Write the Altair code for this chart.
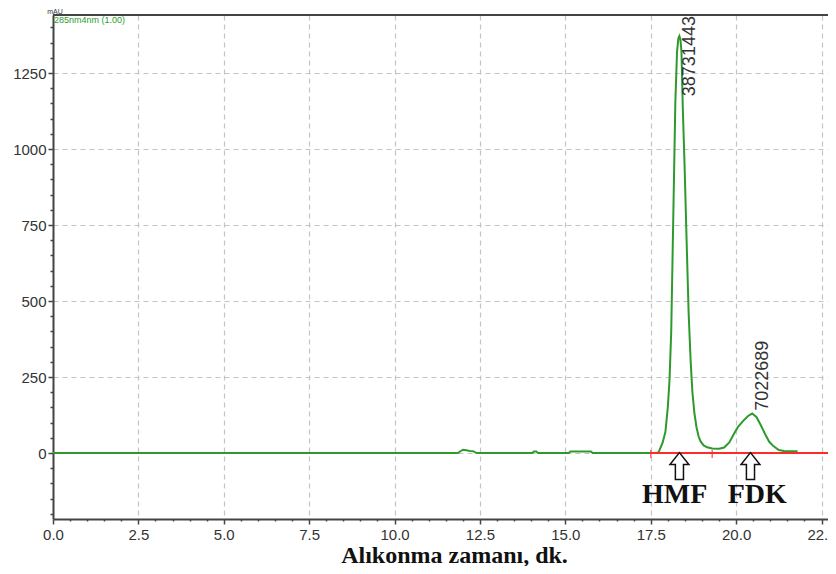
import altair as alt
import pandas as pd

# ---- chromatogram trace ----
time_min = [0, 11.85, 12.0, 12.1, 12.2, 12.3, 12.4,
            14.03, 14.08, 14.15, 14.2,
            15.1, 15.15, 15.75, 15.8,
            17.6, 17.73, 17.85, 17.93, 18.0, 18.05, 18.1, 18.14, 18.18, 18.22, 18.27, 18.31, 18.34,
            18.37, 18.4, 18.44, 18.49, 18.55, 18.61, 18.67, 18.72, 18.78, 18.84, 18.9, 18.96,
            19.05, 19.15, 19.3, 19.5, 19.65, 19.8, 19.93, 20.05, 20.2, 20.35, 20.47,
            20.6, 20.72, 20.85, 20.97, 21.1, 21.25, 21.4, 21.8]
mau = [0, 0, 11, 9, 7, 6, 0,
       0, 5, 5, 0,
       0, 5, 5, 0,
       0, 2, 35, 70, 150, 240, 400, 650, 900, 1150, 1320, 1365, 1372,
       1360, 1320, 1130, 950, 700, 460, 300, 200, 130, 85, 55, 38,
       25, 19, 15, 14, 18, 35, 62, 85, 105, 122, 130,
       118, 92, 62, 37, 22, 10, 7, 6]

# ---- annotations ----
peak_labels = ["38731443", "7022689"]
peak_label_t = [18.66, 20.80]
peak_label_y = [1174, 139]
compound_names = ["HMF", "FDK"]
compound_t = [18.2, 20.62]
compound_y = [-165, -165]
arrow_t = [18.34, 20.42]
arrow_y = [-43, -43]
baseline_t = [17.5, 22.69]
baseline_y = [0, 0]
marker_t = [17.5, 19.3]
marker_y = [-3, -3]

x_major = [0.0, 2.5, 5.0, 7.5, 10.0, 12.5, 15.0, 17.5, 20.0, 22.5]
x_minor = [i * 0.5 for i in range(46) if i % 5 != 0]
y_major = [0, 250, 500, 750, 1000, 1250]
y_minor = [v for v in range(-200, 1450, 50) if v % 250 != 0]

x_title = "Alıkonma zamanı, dk."
y_unit = "mAU"
trace_name = "285nm4nm (1.00)"

X_DOMAIN = [0, 22.69]
Y_DOMAIN = [-217, 1441]
W, H = 775, 504

GREEN = "#2e9a2e"
RED = "#ff2b2b"
AXIS = "#444444"

xs = alt.Scale(domain=X_DOMAIN, nice=False, zero=False)
ys = alt.Scale(domain=Y_DOMAIN, nice=False, zero=False)

x_axis_major = alt.Axis(
    values=x_major, orient="bottom", format=".1f", labelFlush=False, labelOverlap=False,
    grid=True, gridDash=[5, 4], gridColor="#c4c4c4", gridWidth=1.2,
    domainColor=AXIS, domainWidth=2, tickColor=AXIS, tickSize=5, tickWidth=1.5,
    labelFont="Liberation Sans", labelFontSize=15, labelColor="#333333", labelPadding=3,
    title=x_title, titleFont="Liberation Serif", titleFontSize=24, titleFontWeight="bold",
    titleColor="#111111", titleX=401, titleY=43, titleAlign="center", titleBaseline="alphabetic",
)
y_axis_major = alt.Axis(
    values=y_major, orient="left", labelOverlap=False, format="d",
    grid=True, gridDash=[5, 4], gridColor="#c4c4c4", gridWidth=1.2,
    domainColor=AXIS, domainWidth=2, tickColor=AXIS, tickSize=5, tickWidth=1.5,
    labelFont="Liberation Sans", labelFontSize=15, labelColor="#333333", labelPadding=2,
    title=None,
)
x_axis_minor = alt.Axis(values=x_minor, orient="bottom", labels=False, grid=False, domain=False,
                        tickColor=AXIS, tickSize=2, tickWidth=1.5, title=None)
y_axis_minor = alt.Axis(values=y_minor, orient="left", labels=False, grid=False, domain=False,
                        tickColor=AXIS, tickSize=3, tickWidth=1.5, title=None)

trace_df = pd.DataFrame({"t": time_min, "v": mau})
trace = alt.Chart(trace_df).mark_line(color=GREEN, strokeWidth=2).encode(
    x=alt.X("t:Q", scale=xs, axis=x_axis_major),
    y=alt.Y("v:Q", scale=ys, axis=y_axis_major),
)

base_df = pd.DataFrame({"t": baseline_t, "v": baseline_y})
baseline = alt.Chart(base_df).mark_line(color=RED, strokeWidth=2).encode(
    x=alt.X("t:Q", scale=xs, axis=x_axis_minor),
    y=alt.Y("v:Q", scale=ys, axis=y_axis_minor),
)

mark_df = pd.DataFrame({"t": marker_t, "v": marker_y})
markers = alt.Chart(mark_df).mark_tick(color=RED, orient="vertical", size=8, thickness=1.5).encode(
    x=alt.X("t:Q", scale=xs, axis=None),
    y=alt.Y("v:Q", scale=ys, axis=None),
)

lab_df = pd.DataFrame({"t": peak_label_t, "v": peak_label_y, "txt": peak_labels})
peak_text = alt.Chart(lab_df).mark_text(
    angle=270, align="left", baseline="middle", font="Liberation Sans", fontSize=18, color="#333333"
).encode(
    x=alt.X("t:Q", scale=xs, axis=None),
    y=alt.Y("v:Q", scale=ys, axis=None),
    text="txt:N",
)

arrow_df = pd.DataFrame({"t": arrow_t, "v": arrow_y})
arrow_path = "M0,-1 L0.7,-0.11 L0.3,-0.11 L0.3,1 L-0.3,1 L-0.3,-0.11 L-0.7,-0.11 Z"
arrows = alt.Chart(arrow_df).mark_point(
    shape=arrow_path, size=729, filled=True, fill="white", stroke="#111111", strokeWidth=1.5, opacity=1
).encode(
    x=alt.X("t:Q", scale=xs, axis=None),
    y=alt.Y("v:Q", scale=ys, axis=None),
)

comp_df = pd.DataFrame({"t": compound_t, "v": compound_y, "txt": compound_names})
comp_text = alt.Chart(comp_df).mark_text(
    align="center", baseline="alphabetic", font="Liberation Serif", fontSize=28,
    fontWeight="bold", color="#111111"
).encode(
    x=alt.X("t:Q", scale=xs, axis=None),
    y=alt.Y("v:Q", scale=ys, axis=None),
    text="txt:N",
)

one = pd.DataFrame({"a": [0]})
top_border = alt.Chart(one).mark_rule(color=AXIS, strokeWidth=2).encode(
    x=alt.value(0), x2=alt.value(W), y=alt.value(0)
)
unit_text = alt.Chart(one).mark_text(
    align="center", baseline="middle", font="Liberation Sans", fontSize=7, color="#333333"
).encode(x=alt.value(2), y=alt.value(-3.5), text=alt.value(y_unit))
name_text = alt.Chart(one).mark_text(
    align="left", baseline="middle", font="Liberation Sans", fontSize=9, color=GREEN
).encode(x=alt.value(1), y=alt.value(4.5), text=alt.value(trace_name))

chart = alt.layer(
    trace, baseline, markers, peak_text, arrows, comp_text, top_border, unit_text, name_text
).resolve_axis(x="independent", y="independent").properties(
    width=W, height=H,
    autosize=alt.AutoSizeParams(type="none"),
    padding={"left": 45, "top": 7, "right": 0, "bottom": 47},
).configure_view(stroke=None).configure(background="white")

chart.save("out.html", embed_options={"renderer": "svg", "actions": False})
